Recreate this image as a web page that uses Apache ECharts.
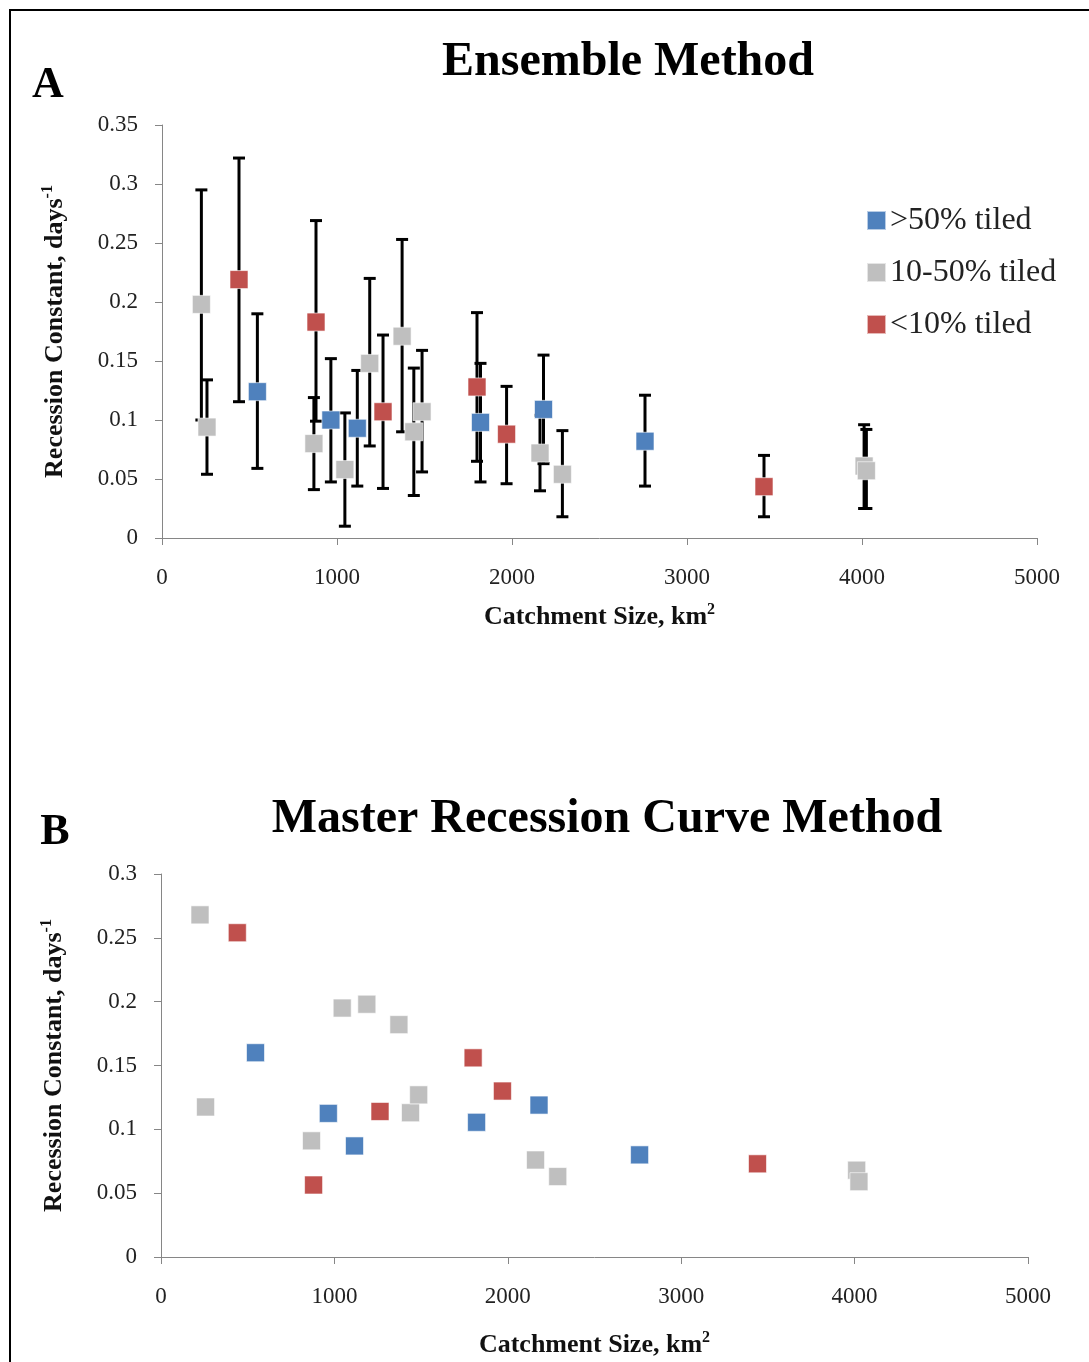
<!DOCTYPE html>
<html>
<head>
<meta charset="utf-8">
<script src="https://cdn.jsdelivr.net/npm/echarts@6/dist/echarts.min.js"></script>
<style>
html,body{margin:0;padding:0;background:#fff;}
#chart{width:1089px;height:1362px;}
</style>
</head>
<body>
<div id="chart"></div>
<script>
// ---- Data ----
const seriesNames = ['>50% tiled', '10-50% tiled', '<10% tiled'];
const xTicks = [0, 1000, 2000, 3000, 4000, 5000];

// >50% tiled
const catchBlue = [545, 965, 1116, 1820, 2180, 2760];
const ensBlue = [0.124, 0.100, 0.093, 0.098, 0.109, 0.082];
const ensBlueLow = [0.059, 0.0475, 0.044, 0.0475, 0.063, 0.044];
const ensBlueHigh = [0.190, 0.152, 0.142, 0.148, 0.155, 0.121];
const mrcBlue = [0.160, 0.1125, 0.087, 0.1055, 0.119, 0.080];

// 10-50% tiled
const catchGray = [225, 257, 868, 1045, 1187, 1372, 1439, 1486, 2160, 2288, 4012, 4025];
const ensGray = [0.198, 0.094, 0.080, 0.058, 0.148, 0.171, 0.090, 0.107, 0.072, 0.054, 0.061, 0.057];
const ensGrayLow = [0.100, 0.054, 0.041, 0.010, 0.078, 0.090, 0.036, 0.056, 0.040, 0.018, 0.025, 0.025];
const ensGrayHigh = [0.295, 0.134, 0.119, 0.106, 0.220, 0.253, 0.144, 0.159, 0.104, 0.091, 0.096, 0.092];
const mrcGray = [0.268, 0.1175, 0.091, 0.195, 0.198, 0.182, 0.113, 0.127, 0.076, 0.063, 0.068, 0.059];

// <10% tiled
const catchRed = [440, 880, 1263, 1800, 1969, 3440];
const ensRed = [0.219, 0.183, 0.107, 0.128, 0.088, 0.0435];
const ensRedLow = [0.1155, 0.099, 0.042, 0.065, 0.046, 0.018];
const ensRedHigh = [0.322, 0.269, 0.172, 0.191, 0.1285, 0.070];
const mrcRed = [0.254, 0.0564, 0.114, 0.156, 0.130, 0.073];

// ---- Build ----
const colors = ['#4F81BD', '#BFBFBF', '#C0504D'];
const FONT = '"Liberation Serif", "Times New Roman", serif';
const pts = (xs, ys) => xs.map((x, i) => [x, ys[i]]);
const bars = (xs, lo, hi) => xs.map((x, i) => [x, lo[i], hi[i]]);

function errRender(params, api) {
  const x = api.value(0);
  const lo = api.coord([x, api.value(1)]);
  const hi = api.coord([x, api.value(2)]);
  const hw = 6;
  const st = { stroke: '#000', lineWidth: 3 };
  return {
    type: 'group',
    children: [
      { type: 'line', shape: { x1: lo[0], y1: lo[1], x2: hi[0], y2: hi[1] }, style: st },
      { type: 'line', shape: { x1: lo[0] - hw, y1: lo[1], x2: lo[0] + hw, y2: lo[1] }, style: st },
      { type: 'line', shape: { x1: hi[0] - hw, y1: hi[1], x2: hi[0] + hw, y2: hi[1] }, style: st }
    ]
  };
}

const axisLine = { show: true, lineStyle: { color: '#868686', width: 1 } };
const axisTick = { show: true, length: 7, lineStyle: { color: '#868686', width: 1 } };
const tickLabel = { fontFamily: FONT, fontSize: 23, color: '#222' };
const yFmt = v => String(+v.toFixed(2));
const xFmt = v => String(Math.round(v));

const nameRich = {
  b: { fontFamily: FONT, fontSize: 26, fontWeight: 'bold', color: '#111', lineHeight: 30 },
  s: { fontFamily: FONT, fontSize: 16, fontWeight: 'bold', color: '#111', verticalAlign: 'top', lineHeight: 30 }
};

function xAxisDef(idx, gap) {
  return {
    type: 'value', gridIndex: idx, min: 0, max: 5000, interval: 1000,
    axisLine, axisTick, splitLine: { show: false },
    axisLabel: Object.assign({ margin: 28, formatter: xFmt }, tickLabel),
    name: '{b|Catchment Size, km}{s|2}',
    nameLocation: 'middle', nameGap: gap,
    nameTextStyle: { rich: nameRich }
  };
}
function yAxisDef(idx, max) {
  return {
    type: 'value', gridIndex: idx, min: 0, max: max, interval: 0.05,
    axisLine, axisTick, splitLine: { show: false },
    axisLabel: Object.assign({ margin: 24, formatter: yFmt }, tickLabel),
    name: '{b|Recession Constant, days}{s|-1}',
    nameLocation: 'middle', nameRotate: 90, nameGap: 92,
    nameTextStyle: { rich: nameRich }
  };
}

const series = [];
const catches = [catchBlue, catchGray, catchRed];
const ens = [ensBlue, ensGray, ensRed];
const ensLo = [ensBlueLow, ensGrayLow, ensRedLow];
const ensHi = [ensBlueHigh, ensGrayHigh, ensRedHigh];
const mrc = [mrcBlue, mrcGray, mrcRed];

for (let k = 0; k < 3; k++) {
  series.push({
    type: 'custom', name: 'err' + k, xAxisIndex: 0, yAxisIndex: 0,
    renderItem: errRender, encode: { x: 0, y: [1, 2] },
    data: bars(catches[k], ensLo[k], ensHi[k]), z: 1, silent: true
  });
}
for (let k = 0; k < 3; k++) {
  series.push({
    type: 'scatter', name: seriesNames[k], xAxisIndex: 0, yAxisIndex: 0,
    symbol: 'rect', symbolSize: 18,
    itemStyle: { color: colors[k], opacity: 1, borderColor: 'rgba(255,255,255,0.6)', borderWidth: 1 },
    data: pts(catches[k], ens[k]), z: 3
  });
}
for (let k = 0; k < 3; k++) {
  series.push({
    type: 'scatter', name: seriesNames[k], xAxisIndex: 1, yAxisIndex: 1,
    symbol: 'rect', symbolSize: 18,
    itemStyle: { color: colors[k], opacity: 1, borderColor: 'rgba(255,255,255,0.6)', borderWidth: 1 },
    data: pts(catches[k], mrc[k]), z: 3
  });
}

const option = {
  animation: false,
  backgroundColor: '#fff',
  color: colors,
  grid: [
    { left: 162, top: 125, width: 875, height: 413 },
    { left: 161, top: 874, width: 867, height: 383 }
  ],
  xAxis: [xAxisDef(0, 64), xAxisDef(1, 73)],
  yAxis: [yAxisDef(0, 0.35), yAxisDef(1, 0.3)],
  legend: {
    data: seriesNames.map(n => ({ name: n, icon: 'rect' })),
    orient: 'vertical', left: 861, top: 199,
    itemWidth: 19, itemHeight: 19, itemGap: 19,
    textStyle: { fontFamily: FONT, fontSize: 32, color: '#222', lineHeight: 33, padding: [0, 0, 0, -1] }
  },
  graphic: [
    { type: 'rect', shape: { x: 10, y: 10, width: 1200, height: 1500 }, style: { fill: 'none', stroke: '#000', lineWidth: 2 }, silent: true, z: 100 },
    { type: 'text', x: 628, y: 63, style: { text: 'Ensemble Method', font: 'bold 48px ' + FONT, fill: '#000', textAlign: 'center', textVerticalAlign: 'middle' } },
    { type: 'text', x: 48, y: 86, style: { text: 'A', font: 'bold 44px ' + FONT, fill: '#000', textAlign: 'center', textVerticalAlign: 'middle' } },
    { type: 'text', x: 607, y: 820, style: { text: 'Master Recession Curve Method', font: 'bold 48px ' + FONT, fill: '#000', textAlign: 'center', textVerticalAlign: 'middle' } },
    { type: 'text', x: 55, y: 833, style: { text: 'B', font: 'bold 44px ' + FONT, fill: '#000', textAlign: 'center', textVerticalAlign: 'middle' } }
  ],
  series: series
};

const chart = echarts.init(document.getElementById('chart'), null, { renderer: 'canvas' });
chart.setOption(option);
</script>
</body>
</html>
